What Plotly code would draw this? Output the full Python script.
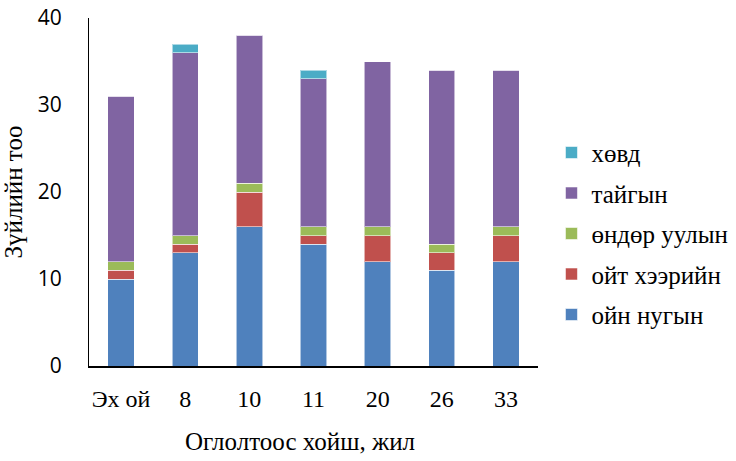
import plotly.graph_objects as go

# Stand age categories
categories = ["Эх ой", "8", "10", "11", "20", "26", "33"]

# Species counts per ecological group
oin_nugyn = [10, 13, 16, 14, 12, 11, 12]       # ойн нугын
oit_kheeriin = [1, 1, 4, 1, 3, 2, 3]           # ойт хээрийн
ondor_uulyn = [1, 1, 1, 1, 1, 1, 1]            # өндөр уулын
taigyn = [19, 21, 17, 17, 19, 20, 18]          # тайгын
khovd = [0, 1, 0, 1, 0, 0, 0]                  # хөвд

series = [
    ("ойн нугын", oin_nugyn, "#4F81BD"),
    ("ойт хээрийн", oit_kheeriin, "#C0504D"),
    ("өндөр уулын", ondor_uulyn, "#9BBB59"),
    ("тайгын", taigyn, "#8064A2"),
    ("хөвд", khovd, "#4BACC6"),
]

x_title = "Оглолтоос хойш, жил"
y_title = "Зүйлийн тоо"

serif = "Times New Roman, Liberation Serif, DejaVu Serif, serif"
sans = "Open Sans"

fig = go.Figure()
n = len(series)
for i, (name, vals, color) in enumerate(series):
    fig.add_trace(go.Bar(
        x=categories, y=vals, name=name, legendgroup=name,
        legendrank=n - i,
        marker=dict(color=color, line=dict(color="rgba(255,255,255,0.55)", width=1)),
    ))

# x-axis title placed slightly left of the plot centre
fig.add_annotation(
    text=x_title, xref="paper", yref="paper", x=0.47, y=0,
    xanchor="center", yanchor="middle", yshift=-75, showarrow=False,
    font=dict(family=serif, size=25, color="#000000"),
)

fig.update_layout(
    barmode="stack",
    bargap=0.59,
    width=736, height=461,
    margin=dict(l=89, r=198, t=18, b=95, autoexpand=False),
    plot_bgcolor="white", paper_bgcolor="white",
    showlegend=True,
    legend=dict(
        traceorder="grouped",
        tracegroupgap=5,
        font=dict(family=serif, size=25, color="#000000"),
        x=1.03, xanchor="left", y=0.38, yanchor="middle",
        itemwidth=30,
    ),
    xaxis=dict(
        showline=True, linecolor="#000000", linewidth=2,
        ticks="", ticklabelstandoff=10,
        tickfont=dict(family=serif, size=24, color="#000000"),
    ),
    yaxis=dict(
        range=[0, 40], tickvals=[0, 10, 20, 30, 40],
        showline=True, linecolor="#000000", linewidth=1,
        showgrid=False, zeroline=False, ticks="", ticklabelstandoff=22,
        tickfont=dict(family=sans, size=21, color="#000000"),
        title=dict(text=y_title, font=dict(family=serif, size=25, color="#000000"), standoff=8),
    ),
)

fig.write_html("out.html")
